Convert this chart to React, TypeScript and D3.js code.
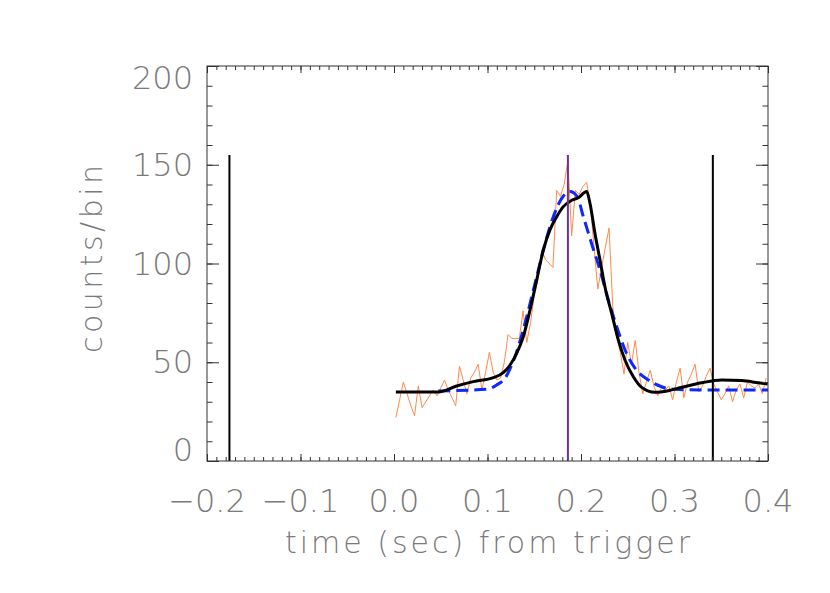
import { useEffect, useRef } from "react";
import { scaleLinear, line, curveMonotoneX, range, select, axisBottom, axisTop, axisLeft, axisRight } from "d3";

// light-curve counts, 4 ms bins starting at t = 0
const counts = [
  22, 31, 40, 34, 28, 23, 38, 27, 30, 33,
  36, 33, 37, 41, 36, 32, 28, 48, 41, 34,
  42, 45, 49, 36, 45, 55, 45, 41, 42, 50,
  64, 62, 62, 62, 76, 60, 70, 84, 92, 107,
  102, 100, 98, 137, 134, 140, 152, 114, 137, 135,
  139, 141, 130, 108, 87, 98, 108, 118, 78, 63,
  55, 44, 60, 49, 61, 45, 34, 40, 46, 38,
  33, 37, 36, 38, 31, 40, 47, 32, 40, 44,
  49, 35, 38, 43, 47, 39, 35, 31, 34, 38,
  30, 36, 39, 32, 40, 38, 37, 39, 34, 42,
];
const binStart = 0.002;
const binWidth = 0.004;

// solid black fit
const fitTimes = [0.002, 0.0474, 0.067, 0.0848, 0.1062, 0.1169, 0.1241, 0.1312, 0.1383, 0.1455, 0.1526, 0.1597, 0.1668, 0.174, 0.1811, 0.1901, 0.1971, 0.2061, 0.2096, 0.215, 0.2203, 0.2257, 0.2328, 0.2399, 0.2471, 0.256, 0.2649, 0.2791, 0.2934, 0.3077, 0.329, 0.3505, 0.3719, 0.3896, 0.3997];
const fitValues = [35, 35, 38, 40.2, 42.2, 44.7, 48.6, 54.5, 63, 76.5, 91.6, 106.8, 117, 123.7, 128.8, 132, 133.3, 136.4, 130.5, 115, 101.8, 88, 74.8, 61.3, 51, 42.7, 37.3, 34.8, 35.6, 37.3, 39.6, 41, 40.7, 39.6, 39];

// dashed blue fit
const gaussTimes = [0.0474, 0.0991, 0.1098, 0.1187, 0.1259, 0.133, 0.1419, 0.1526, 0.1615, 0.1704, 0.1794, 0.1882, 0.1957, 0.2025, 0.2114, 0.2203, 0.2292, 0.2382, 0.2471, 0.2578, 0.272, 0.2863, 0.3005, 0.3362, 0.4];
const gaussValues = [35.5, 36.3, 38.5, 41.9, 48.6, 57.9, 73, 93.3, 110, 123.7, 133, 136.4, 134, 123.7, 110, 96.7, 81.5, 68, 56.2, 47, 41, 37.6, 36.3, 35.9, 35.9];

const markerTimes = [-0.176, 0.341];
const peakTime = 0.186;
const markerHeight = 155;

const xTicks = [-0.2, -0.1, 0.0, 0.1, 0.2, 0.3, 0.4];
const yTicks = [0, 50, 100, 150, 200];

const W = 830;
const H = 593;
const left = 207;
const right = 768;
const top = 66;
const bottom = 461;

const fontFamily = "'DejaVu Sans', sans-serif";
const textColor = "#7a7a7a";

function Ticks({ kind, scale, values, size, transform }) {
  const ref = useRef(null);
  useEffect(() => {
    if (!ref.current) return;
    const make = { bottom: axisBottom, top: axisTop, left: axisLeft, right: axisRight }[kind];
    const g = select(ref.current);
    g.selectAll("*").remove();
    g.call(make(scale).tickValues(values).tickSize(size).tickFormat(() => ""));
    g.select(".domain").remove();
    g.selectAll("line").attr("stroke", "#333").attr("stroke-width", 1);
  }, [kind, scale, values, size]);
  return <g ref={ref} transform={transform} />;
}

export default function App() {
  const x = scaleLinear().domain([-0.2, 0.4]).range([left, right]);
  const y = scaleLinear().domain([0, 200]).range([bottom, top]);

  const xMinor = range(-0.2, 0.4001, 0.01);
  const yMinor = range(0, 200.1, 10);

  const rawLine = line<number>()
    .x((_, i) => x(binStart + binWidth * i))
    .y((d) => y(d));

  const fitLine = line<number>()
    .x((_, i) => x(fitTimes[i]))
    .y((d) => y(d))
    .curve(curveMonotoneX);

  const gaussLine = line<number>()
    .x((_, i) => x(gaussTimes[i]))
    .y((d) => y(d))
    .curve(curveMonotoneX);

  return (
    <svg width={W} height={H} style={{ position: "absolute", left: 0, top: 0, background: "#fff" }}>
      <rect x={0} y={0} width={W} height={H} fill="#fff" />
      <defs>
        <clipPath id="plot">
          <rect x={left} y={top} width={right - left} height={bottom - top} />
        </clipPath>
      </defs>

      <g clipPath="url(#plot)">
        <path d={rawLine(counts) ?? ""} fill="none" stroke="#ff8a4c" strokeWidth={1} />
        <path d={gaussLine(gaussValues) ?? ""} fill="none" stroke="#0a28ff" strokeWidth={3} strokeDasharray="12 6" />
        <path d={fitLine(fitValues) ?? ""} fill="none" stroke="#000" strokeWidth={3} />
        {markerTimes.map((t) => (
          <line key={t} x1={x(t)} x2={x(t)} y1={y(0)} y2={y(markerHeight)} stroke="#000" strokeWidth={2} />
        ))}
        <line x1={x(peakTime)} x2={x(peakTime)} y1={y(0)} y2={y(markerHeight)} stroke="#6e3390" strokeWidth={2} />
      </g>

      <Ticks kind="bottom" scale={x} values={xMinor} size={-4} transform={`translate(0,${bottom})`} />
      <Ticks kind="bottom" scale={x} values={xTicks} size={-7} transform={`translate(0,${bottom})`} />
      <Ticks kind="top" scale={x} values={xMinor} size={-4} transform={`translate(0,${top})`} />
      <Ticks kind="top" scale={x} values={xTicks} size={-7} transform={`translate(0,${top})`} />
      <Ticks kind="left" scale={y} values={yMinor} size={-5.5} transform={`translate(${left},0)`} />
      <Ticks kind="left" scale={y} values={yTicks} size={-12} transform={`translate(${left},0)`} />
      <Ticks kind="right" scale={y} values={yMinor} size={-5.5} transform={`translate(${right},0)`} />
      <Ticks kind="right" scale={y} values={yTicks} size={-12} transform={`translate(${right},0)`} />

      <rect x={left} y={top} width={right - left} height={bottom - top} fill="none" stroke="#333" strokeWidth={1} />

      <g fontFamily={fontFamily} fontSize={32} fill={textColor} fontWeight={200}>
        {xTicks.map((t) => (
          <text key={t} x={x(t)} y={512} textAnchor="middle">
            {t < 0 ? "\u2212" : ""}{Math.abs(t).toFixed(1)}
          </text>
        ))}
        {yTicks.map((v) => (
          <text key={v} x={193} y={Math.min(Math.max(y(v), top + 12), bottom - 11)} textAnchor="end" dominantBaseline="central">
            {v}
          </text>
        ))}
        <text x={285} y={553} textLength={405} lengthAdjust="spacing" fontSize={30}>
          time (sec) from trigger
        </text>
        <text transform={`translate(102,353) rotate(-90)`} textLength={188} lengthAdjust="spacing" fontSize={30}>
          counts/bin
        </text>
      </g>
    </svg>
  );
}
